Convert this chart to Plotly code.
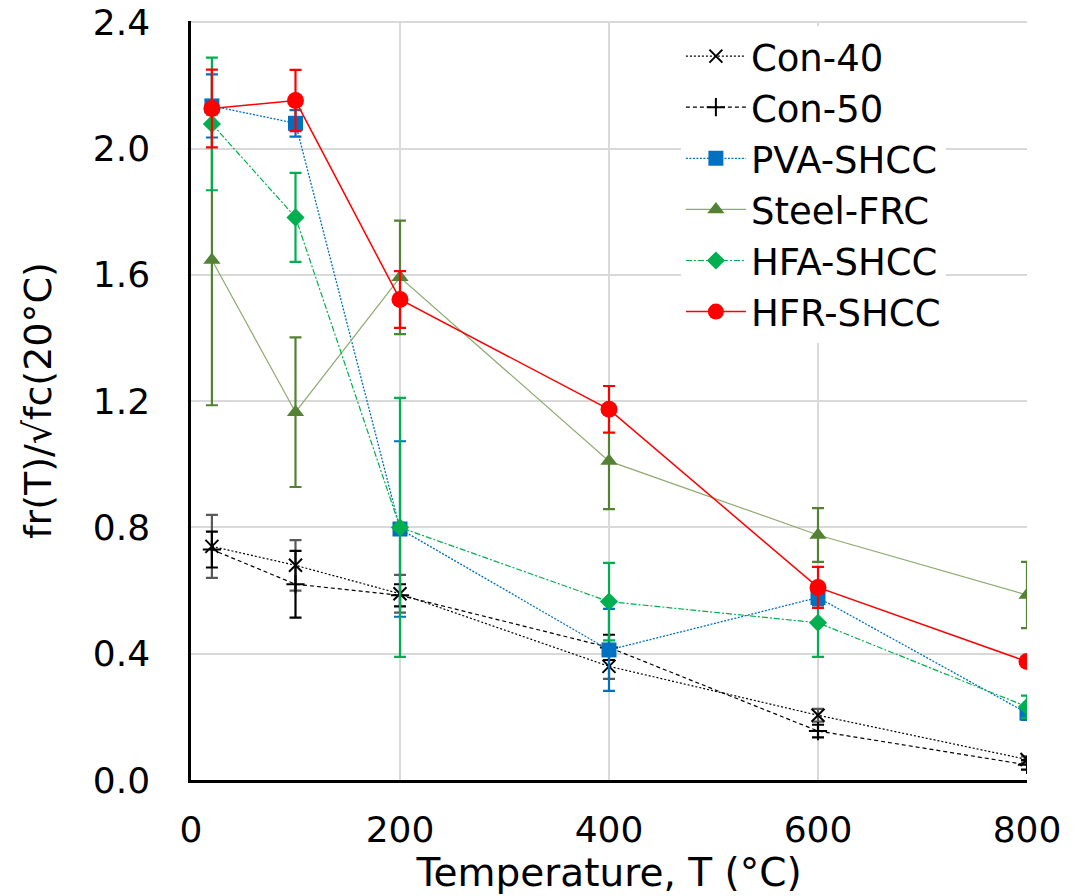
import plotly.graph_objects as go

T = [20, 100, 200, 400, 600, 800]
x_ticks = [0, 200, 400, 600, 800]
y_ticks = [0.0, 0.4, 0.8, 1.2, 1.6, 2.0, 2.4]

con40 = [0.74, 0.68, 0.59, 0.36, 0.205, 0.065]
con40_err = [0.10, 0.08, 0.06, 0.04, 0.02, 0.01]
con50 = [0.73, 0.62, 0.585, 0.42, 0.155, 0.048]
con50_err = [0.057, 0.106, 0.035, 0.04, 0.02, 0.015]
pva = [2.135, 2.08, 0.795, 0.412, 0.578, 0.212]
pva_err = [0.10, 0.042, 0.278, 0.13, 0.025, 0.022]
steel = [1.647, 1.165, 1.592, 1.01, 0.776, 0.586]
steel_err = [0.46, 0.237, 0.18, 0.152, 0.085, 0.105]
hfa = [2.078, 1.782, 0.80, 0.565, 0.498, 0.232]
hfa_err = [0.21, 0.141, 0.41, 0.123, 0.108, 0.035]
hfr = [2.127, 2.152, 1.522, 1.174, 0.61, 0.375]
hfr_err = [0.123, 0.097, 0.09, 0.074, 0.065, 0.0]

series = [
    dict(name="Con-40", y=con40, e=con40_err, ecolor="#595959",
         lcolor="#000000", dash="2px,2px", lw=1.2,
         marker=dict(symbol="x-thin", size=13, line=dict(width=2, color="#000000"))),
    dict(name="Con-50", y=con50, e=con50_err, ecolor="#000000",
         lcolor="#000000", dash="4px,3px", lw=1.2,
         marker=dict(symbol="cross-thin", size=13, line=dict(width=2, color="#000000"))),
    dict(name="PVA-SHCC", y=pva, e=pva_err, ecolor="#0070C0",
         lcolor="#0070C0", dash="2px,1.5px", lw=1.3,
         marker=dict(symbol="square", size=15, color="#0070C0")),
    dict(name="Steel-FRC", y=steel, e=steel_err, ecolor="#548235",
         lcolor="#8DAA6E", dash="solid", lw=1.2,
         marker=dict(symbol="triangle-up", size=15, color="#548235")),
    dict(name="HFA-SHCC", y=hfa, e=hfa_err, ecolor="#00B050",
         lcolor="#00B050", dash="6px,2px,2px,2px", lw=1.2,
         marker=dict(symbol="diamond", size=14, color="#00B050")),
    dict(name="HFR-SHCC", y=hfr, e=hfr_err, ecolor="#FF0000",
         lcolor="#FF0000", dash="solid", lw=1.5,
         marker=dict(symbol="circle", size=17, color="#FF0000")),
]

fig = go.Figure()
for s in series:
    fig.add_trace(go.Scatter(
        x=T, y=s["y"], name=s["name"], mode="lines+markers",
        line=dict(color=s["lcolor"], dash=s["dash"], width=s["lw"]),
        marker=s["marker"],
        error_y=dict(type="data", array=s["e"], visible=True,
                     color=s["ecolor"], thickness=2.2, width=6),
    ))

font_family = "DejaVu Sans"
fig.update_layout(
    width=1086, height=896,
    margin=dict(l=191, r=59, t=21, b=116),
    paper_bgcolor="white", plot_bgcolor="white",
    font=dict(family=font_family, size=36, color="#000000"),
    showlegend=True,
    legend=dict(
        x=0.586, y=0.994, xanchor="left", yanchor="top",
        bgcolor="white", borderwidth=0,
        font=dict(family=font_family, size=37, color="#000000"),
        itemwidth=60, tracegroupgap=0,
    ),
)
fig.update_xaxes(
    range=[0, 800], tickmode="array", tickvals=x_ticks,
    ticktext=[str(v) for v in x_ticks],
    showgrid=True, gridcolor="#d9d9d9", gridwidth=2,
    showline=True, linecolor="#000000", linewidth=2.5,
    zeroline=False, ticks="", ticklabelstandoff=16, automargin=False,
    ticklabeloverflow="allow",
    tickfont=dict(size=36),
    title=dict(text="Temperature, T (°C)", font=dict(size=39), standoff=10),
)
fig.update_yaxes(
    range=[0, 2.404], tickmode="array", tickvals=y_ticks,
    ticktext=[f"{v:.1f}" for v in y_ticks],
    showgrid=True, gridcolor="#d9d9d9", gridwidth=2,
    showline=True, linecolor="#000000", linewidth=2.5,
    zeroline=False, ticks="", ticklabelstandoff=31, automargin=False,
    ticklabeloverflow="allow",
    tickfont=dict(size=36),
    title=dict(text="fr(T)/√fc(20°C)", font=dict(size=38), standoff=30),
)

fig.write_html(
    "out.html",
    config={"displayModeBar": False},
    post_script="document.body.style.margin='0';document.documentElement.style.margin='0';",
)
